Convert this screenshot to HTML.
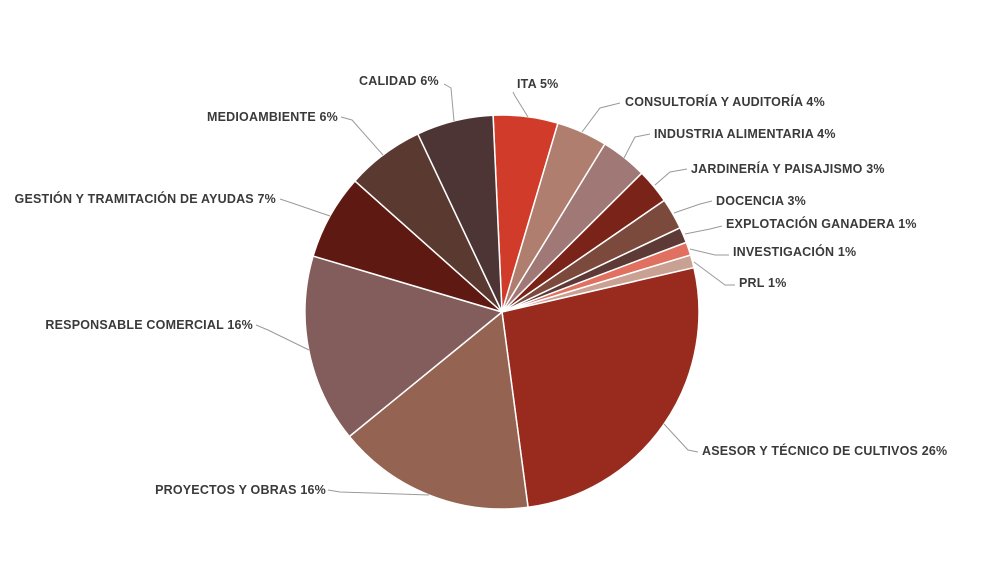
<!DOCTYPE html>
<html><head><meta charset="utf-8"><style>
html,body{margin:0;padding:0;background:#fff;}
svg text{font-family:"Liberation Sans",sans-serif;font-weight:bold;font-size:12.5px;fill:#3a3a3a;letter-spacing:0.2px}
</style></head><body>
<svg id="s" width="994" height="559" viewBox="0 0 994 559" xmlns="http://www.w3.org/2000/svg">
<g id="pie"></g>
<g stroke="#9a9a9a" stroke-width="1" fill="none">
<polyline points="444,84 451,88 454,121"/>
<polyline points="513,92 515,96 528,117"/>
<polyline points="620,103 600,108 582,132"/>
<polyline points="650,134 635,137 624,158"/>
<polyline points="687,169 670,172 655,185"/>
<polyline points="712,201 700,204 674,213"/>
<polyline points="722,226 710,229 685,234"/>
<polyline points="729,255 715,255 690,249"/>
<polyline points="735,285 725,285 694,262"/>
<polyline points="698,452 688,450 664,424"/>
<polyline points="328,490 340,492 429,495"/>
<polyline points="256,325 268,330 309,350"/>
<polyline points="280,199 292,203 330,216"/>
<polyline points="341,117 352,120 383,155"/>
</g>
<text x="359" y="85">CALIDAD 6%</text>
<text x="517" y="88">ITA 5%</text>
<text x="625" y="106">CONSULTORÍA Y AUDITORÍA 4%</text>
<text x="654" y="138">INDUSTRIA ALIMENTARIA 4%</text>
<text x="691" y="173">JARDINERÍA Y PAISAJISMO 3%</text>
<text x="716" y="205">DOCENCIA 3%</text>
<text x="726" y="228">EXPLOTACIÓN GANADERA 1%</text>
<text x="733" y="256">INVESTIGACIÓN 1%</text>
<text x="739" y="287">PRL 1%</text>
<text x="702" y="455">ASESOR Y TÉCNICO DE CULTIVOS 26%</text>
<text x="326" y="494" text-anchor="end">PROYECTOS Y OBRAS 16%</text>
<text x="253" y="329" text-anchor="end">RESPONSABLE COMERCIAL 16%</text>
<text x="276" y="203" text-anchor="end">GESTIÓN Y TRAMITACIÓN DE AYUDAS 7%</text>
<text x="338" y="121" text-anchor="end">MEDIOAMBIENTE 6%</text>
</svg>
<script>
var cx=502,cy=312,r=197;
var b=[-2.6,16.5,31.5,45.2,55.5,64.7,69.3,73.2,77,172.4,230.8,286.5,311.7,334.7,357.4];
var c=["#d13b2a","#b07e6e","#a07876","#7a2318","#7b4a3d","#5e3a36","#e07060","#c9a192","#992b1e","#946352","#825d5c","#5e1a12","#5a3a30","#4e3535"];
function p(a){a=a*Math.PI/180;return (cx+r*Math.sin(a)).toFixed(2)+","+(cy-r*Math.cos(a)).toFixed(2);}
var h="";
for(var i=0;i<14;i++){var a0=b[i],a1=b[i+1];
h+='<path d="M'+cx+','+cy+' L'+p(a0)+' A'+r+','+r+' 0 '+((a1-a0)>180?1:0)+' 1 '+p(a1)+' Z" fill="'+c[i]+'" stroke="#fff" stroke-width="1.5"/>';}
document.getElementById("pie").innerHTML=h;
</script>
</body></html>
